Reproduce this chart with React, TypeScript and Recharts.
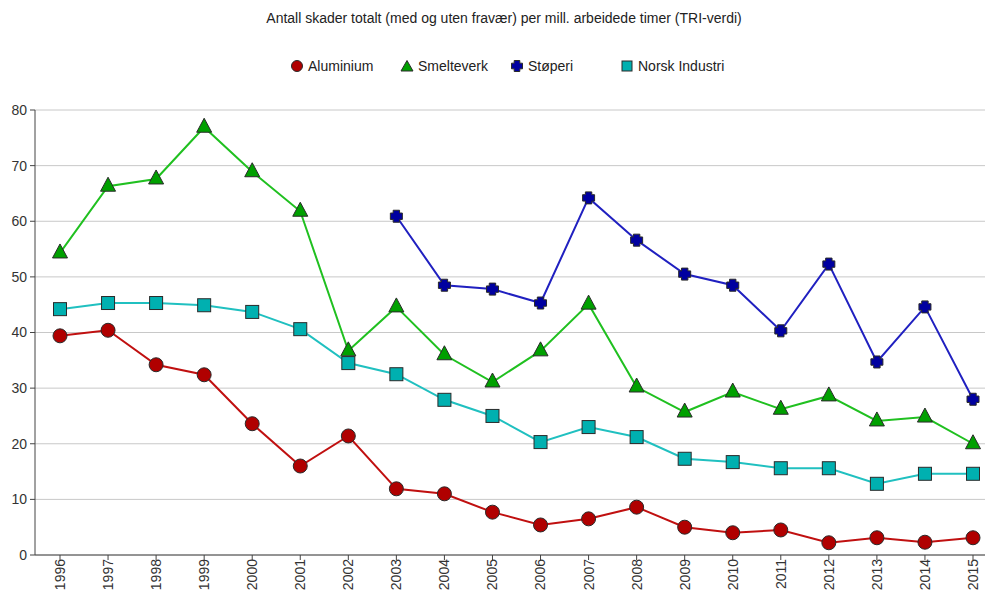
import React from 'react';
import { LineChart, Line, XAxis, YAxis, CartesianGrid } from 'recharts';

document.body.style.margin = '0';

const years = ['1996', '1997', '1998', '1999', '2000', '2001', '2002', '2003', '2004', '2005',
  '2006', '2007', '2008', '2009', '2010', '2011', '2012', '2013', '2014', '2015'];

const aluminium = [39.4, 40.4, 34.2, 32.4, 23.6, 16.0, 21.4, 11.9, 11.0, 7.7,
  5.4, 6.5, 8.6, 5.0, 4.0, 4.5, 2.2, 3.1, 2.3, 3.1];
const smelteverk = [54.3, 66.3, 67.6, 76.9, 68.9, 61.8, 36.7, 44.6, 36.0, 31.1,
  36.7, 45.1, 30.2, 25.7, 29.3, 26.2, 28.6, 24.1, 24.8, 20.0];
const stoperi = [null, null, null, null, null, null, null, 60.9, 48.5, 47.8,
  45.3, 64.2, 56.6, 50.5, 48.5, 40.3, 52.3, 34.7, 44.6, 28.0];
const norskIndustri = [44.2, 45.3, 45.3, 44.9, 43.7, 40.6, 34.5, 32.5, 27.9, 25.0,
  20.3, 23.0, 21.2, 17.3, 16.7, 15.6, 15.6, 12.8, 14.6, 14.6];

const yTicks = [0, 10, 20, 30, 40, 50, 60, 70, 80];

const data = years.map((year, i) => ({
  year,
  aluminium: aluminium[i],
  smelteverk: smelteverk[i],
  stoperi: stoperi[i],
  norsk: norskIndustri[i],
}));

const FONT = '"Liberation Sans", Arial, sans-serif';

// marker shapes
const circle = (fill: string) => (p: any) => {
  if (p.cx == null || p.cy == null || p.value == null) return <g key={p.key ?? p.index} />;
  return <circle key={p.key ?? p.index} cx={p.cx} cy={p.cy} r={7} fill={fill} stroke="#2a2a2a" strokeWidth={1} />;
};
const triangle = (fill: string) => (p: any) => {
  if (p.cx == null || p.cy == null || p.value == null) return <g key={p.key ?? p.index} />;
  const { cx, cy } = p;
  const pts = `${cx},${cy - 9} ${cx + 7.5},${cy + 5} ${cx - 7.5},${cy + 5}`;
  return <polygon key={p.key ?? p.index} points={pts} fill={fill} stroke="#2a2a2a" strokeWidth={1} />;
};
const square = (fill: string) => (p: any) => {
  if (p.cx == null || p.cy == null || p.value == null) return <g key={p.key ?? p.index} />;
  return <rect key={p.key ?? p.index} x={p.cx - 6.5} y={p.cy - 6.5} width={13} height={13} fill={fill} stroke="#2a2a2a" strokeWidth={1} />;
};
const crossPts = (cx: number, cy: number, a: number, b: number) => {
  const pts = [
    [-b, -a], [b, -a], [b, -b], [a, -b], [a, b], [b, b], [b, a], [-b, a], [-b, b], [-a, b], [-a, -b], [-b, -b],
  ];
  return pts.map(([x, y]) => `${cx + x},${cy + y}`).join(' ');
};
const cross = (fill: string) => (p: any) => {
  if (p.cx == null || p.cy == null || p.value == null) return <g key={p.key ?? p.index} />;
  return <polygon key={p.key ?? p.index} points={crossPts(p.cx, p.cy, 6, 3.2)} fill={fill} stroke="#2a2a2a" strokeWidth={1} strokeLinejoin="round" />;
};

const legendItems = [
  { name: 'Aluminium', fill: '#b00000', shape: 'circle' },
  { name: 'Smelteverk', fill: '#00a000', shape: 'triangle' },
  { name: 'Støperi', fill: '#0000a0', shape: 'cross' },
  { name: 'Norsk Industri', fill: '#00b0b0', shape: 'square' },
];

function LegendBox() {
  return (
    <div style={{ position: 'absolute', top: 58, left: 290, display: 'flex', fontFamily: FONT, fontSize: 14, color: '#222' }}>
      {legendItems.map((it) => (
        <div key={it.name} style={{ width: 110, display: 'flex', alignItems: 'center' }}>
          <svg width={14} height={14} style={{ marginRight: 4 }}>
            {it.shape === 'circle' && <circle cx={7} cy={7} r={5.5} fill={it.fill} stroke="#2a2a2a" />}
            {it.shape === 'triangle' && <polygon points="7,1.5 13,12 1,12" fill={it.fill} stroke="#2a2a2a" />}
            {it.shape === 'square' && <rect x={2} y={2} width={10} height={10} fill={it.fill} stroke="#2a2a2a" />}
            {it.shape === 'cross' && <polygon points={crossPts(7, 7, 5.5, 2.8)} fill={it.fill} stroke="#2a2a2a" strokeLinejoin="round" />}
          </svg>
          <span>{it.name}</span>
        </div>
      ))}
    </div>
  );
}

export default function App() {
  return (
    <div style={{ position: 'relative', width: 985, height: 594, background: '#fff' }}>
      <div style={{ position: 'absolute', top: 10, left: 0, width: 1008, textAlign: 'center', fontFamily: FONT, fontSize: 14, color: '#222' }}>
        Antall skader totalt (med og uten fravær) per mill. arbeidede timer (TRI-verdi)
      </div>
      <LegendBox />
      <LineChart width={985} height={594} data={data} margin={{ top: 110, right: 0, bottom: 0, left: 0 }}>
        <CartesianGrid vertical={false} stroke="#c8c8c8" strokeWidth={1} />
        <XAxis
          dataKey="year"
          padding={{ left: 25, right: 12 }}
          height={39}
          interval={0}
          angle={-90}
          textAnchor="end"
          tickSize={5}
          tickMargin={3}
          dy={-4}
          dx={-5}
          axisLine={{ stroke: '#444' }}
          tickLine={{ stroke: '#444' }}
          tick={{ fill: '#333', fontSize: 14, fontFamily: FONT }}
        />
        <YAxis
          width={35}
          domain={[0, 80]}
          ticks={yTicks}
          tickSize={5}
          tickMargin={3}
          axisLine={{ stroke: '#444' }}
          tickLine={{ stroke: '#444' }}
          tick={{ fill: '#333', fontSize: 14, fontFamily: FONT }}
        />
        <Line dataKey="norsk" name="Norsk Industri" stroke="#20c0c0" strokeWidth={2} dot={square('#00b0b0')} isAnimationActive={false} />
        <Line dataKey="aluminium" name="Aluminium" stroke="#c01010" strokeWidth={2} dot={circle('#b00000')} isAnimationActive={false} />
        <Line dataKey="smelteverk" name="Smelteverk" stroke="#20c020" strokeWidth={2} dot={triangle('#00a000')} isAnimationActive={false} />
        <Line dataKey="stoperi" name="Støperi" stroke="#2020c0" strokeWidth={2} dot={cross('#0000a0')} isAnimationActive={false} />
      </LineChart>
    </div>
  );
}
